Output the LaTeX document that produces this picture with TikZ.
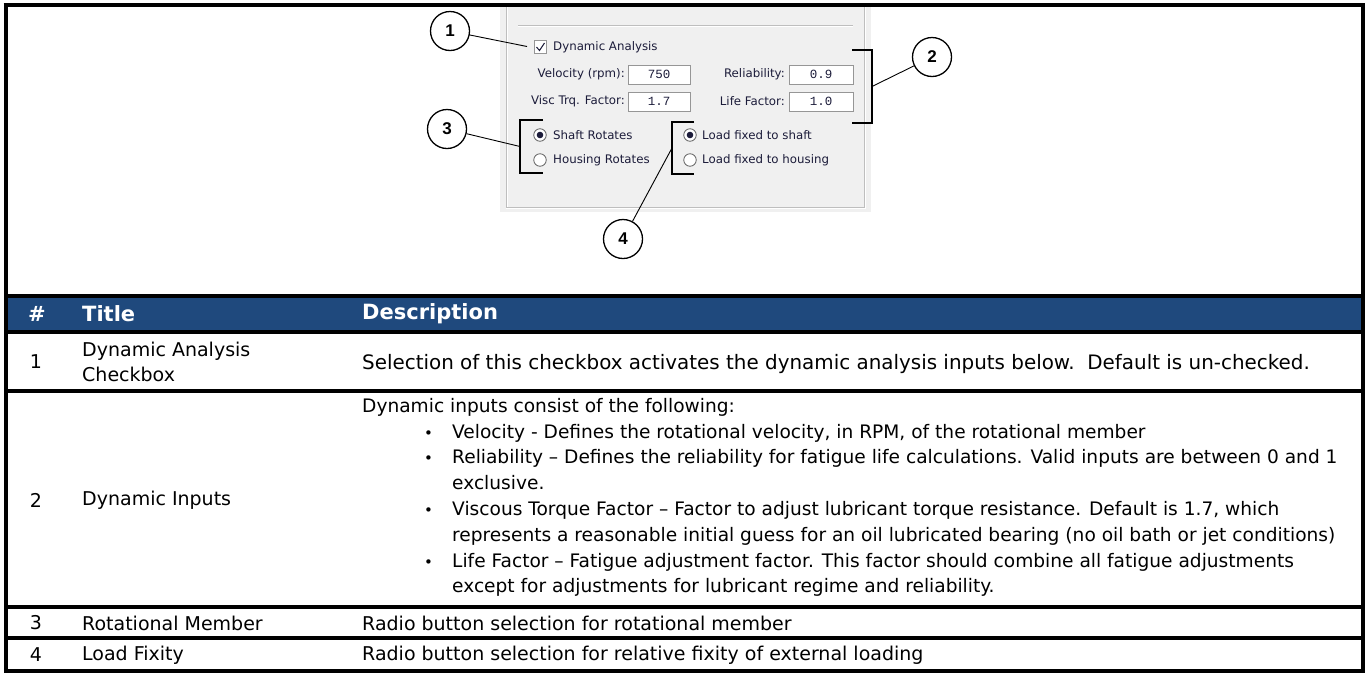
\documentclass[tikz,border=0pt]{standalone}
\usepackage{fontspec}
\setmainfont{DejaVu Sans}
\newfontfamily\monofont{Liberation Mono}
\newfontfamily\calloutfont{Liberation Sans}
\definecolor{headblue}{RGB}{31,73,125}
\definecolor{panelbg}{RGB}{240,240,240}
\definecolor{uitext}{RGB}{28,28,58}
\definecolor{gbline}{RGB}{190,190,190}
\definecolor{fieldline}{RGB}{150,150,150}
\definecolor{radioline}{RGB}{100,100,100}
\newcommand{\bul}{\hspace*{62pt}\makebox[28pt][l]{\fontsize{15}{15}\selectfont •}}
\begin{document}
\begin{tikzpicture}[x=1pt,y=-1pt,
  rule/.style={line width=4pt,black},
  ui/.style={font=\fontsize{11.8}{13}\selectfont,text=uitext,inner sep=0},
  field/.style={draw=fieldline,fill=white,minimum height=19pt,inner sep=0,font=\monofont\fontsize{12.5}{14}\selectfont,text=uitext},
  radio/.style={circle,draw=radioline,line width=0.8pt,fill=white,minimum size=12.5pt,inner sep=0},
  callout/.style={circle,draw,line width=1.3pt,fill=white,minimum size=39pt,inner sep=0,font=\calloutfont\bfseries\fontsize{17}{17}\selectfont},
  leader/.style={line width=0.9pt},
  bracket/.style={line width=1.3pt},
  cell/.style={font=\fontsize{19}{25}\selectfont,anchor=west,inner sep=0,align=left},
  num/.style={font=\fontsize{19}{25}\selectfont,inner sep=0},
  head/.style={font=\bfseries\fontsize{21}{25}\selectfont,text=white,anchor=west,inner sep=0}]
\useasboundingbox (0,0) rectangle (1366,673);
\fill[white] (0,0) rectangle (1366,673);

% ---------- screenshot panel ----------
\fill[panelbg] (500,7) rectangle (871,212);
\draw[gbline] (506.5,7) -- (506.5,207.5) -- (864.5,207.5) -- (864.5,7);
\draw[white] (507.5,7) -- (507.5,206.5);
\draw[white] (505.5,208.5) -- (865.5,208.5) -- (865.5,7);
\draw[gbline] (518,25.5) -- (853,25.5);
\draw[white] (518,26.5) -- (853,26.5);

\node[draw=fieldline,line width=0.7pt,fill=white,minimum size=12.5pt,inner sep=0] (cb) at (540.5,47) {};
\draw[uitext,line width=1pt] (536.5,47) -- (539.5,50.5) -- (544.5,43);
\node[ui,anchor=west] (cbtext) at (553,47) {Dynamic Analysis};
\coordinate (cbleft) at (527,46.5);

\node[ui,anchor=east] (lvel) at (625,74) {Velocity (rpm):};
\node[field,minimum width=62pt] (fvel) at (659,74.5) {750};
\node[ui,anchor=east] (lvisc) at (625,101) {Visc Trq. Factor:};
\node[field,minimum width=62pt] (fvisc) at (659,101.5) {1.7};
\node[ui,anchor=east] (lrel) at (785,74) {Reliability:};
\node[field,minimum width=64pt] (frel) at (821,74.5) {0.9};
\node[ui,anchor=east] (llife) at (785,101) {Life Factor:};
\node[field,minimum width=64pt] (flife) at (821,101.5) {1.0};

\node[radio] (rs) at (540,135) {};
\fill[uitext] (rs.center) circle (3.3pt);
\node[ui,anchor=west] (ts) at (553,135) {Shaft Rotates};
\node[radio] (rh) at (540,160) {};
\node[ui,anchor=west] (th) at (553,160) {Housing Rotates};
\node[radio] (rls) at (690,135) {};
\fill[uitext] (rls.center) circle (3.3pt);
\node[ui,anchor=west] (tls) at (702,135) {Load fixed to shaft};
\node[radio] (rlh) at (690,160) {};
\node[ui,anchor=west] (tlh) at (702,160) {Load fixed to housing};

% ---------- brackets ----------
\draw[bracket] (852,50) -- (872,50) -- (872,123) -- (852,123);
\coordinate (b2) at (872,86.5);
\draw[bracket] (543,120) -- (520,120) -- (520,173) -- (543,173);
\coordinate (b3) at (520,146.5);
\draw[bracket] (694,122) -- (672,122) -- (672,174) -- (694,174);
\coordinate (b4) at (672,148);

% ---------- callouts ----------
\node[callout] (c1) at (450,31) {1};
\node[callout] (c2) at (932,57) {2};
\node[callout] (c3) at (447,129) {3};
\node[callout] (c4) at (623,239) {4};
\draw[leader] (c1) -- (cbleft);
\draw[leader] (c2) -- (b2);
\draw[leader] (c3) -- (b3);
\draw[leader] (c4) -- (b4);

% ---------- table ----------
\fill[headblue] (5,296) rectangle (1363,332);
\node[head] (hnum) at (28,314) {\#};
\node[head] (htitle) at (82,314) {Title};
\node[head] (hdesc) at (362,314) {Description};

\node[num] (n1) at (36,362) {1};
\node[cell] (t1) at (82,362) {Dynamic Analysis\\Checkbox};
\node[cell,font=\fontsize{19.9}{25}\selectfont] (d1) at (362,364) {Selection of this checkbox activates the dynamic analysis inputs below.\ \ Default is un-checked.};

\node[num] (n2) at (36,500) {2};
\node[cell] (t2) at (82,500) {Dynamic Inputs};
\node[cell,font=\fontsize{18.6}{25.8}\selectfont] (d2) at (362,497.5) {Dynamic inputs consist of the following:\\
\bul Velocity - Defines the rotational velocity, in RPM, of the rotational member\\
\bul Reliability – Defines the reliability for fatigue life calculations. Valid inputs are between 0 and 1\\
\hspace*{90pt}exclusive.\\
\bul Viscous Torque Factor – Factor to adjust lubricant torque resistance. Default is 1.7, which\\
\hspace*{90pt}represents a reasonable initial guess for an oil lubricated bearing (no oil bath or jet conditions)\\
\bul Life Factor – Fatigue adjustment factor. This factor should combine all fatigue adjustments\\
\hspace*{90pt}except for adjustments for lubricant regime and reliability.};

\node[num] (n3) at (36,623) {3};
\node[cell] (t3) at (82,623) {Rotational Member};
\node[cell] (d3) at (362,623) {Radio button selection for rotational member};

\node[num] (n4) at (36,655) {4};
\node[cell] (t4) at (82,655) {Load Fixity};
\node[cell] (d4) at (362,655) {Radio button selection for relative fixity of external loading};

% ---------- rules ----------
\foreach \yy in {296,332,391,607,638,671} \draw[rule] (5,\yy) -- (1363,\yy);
\draw[rule] (3.5,5) -- (1365,5);
\draw[rule] (5.5,3) -- (5.5,673);
\draw[rule] (1363,3) -- (1363,673);
\end{tikzpicture}
\end{document}
